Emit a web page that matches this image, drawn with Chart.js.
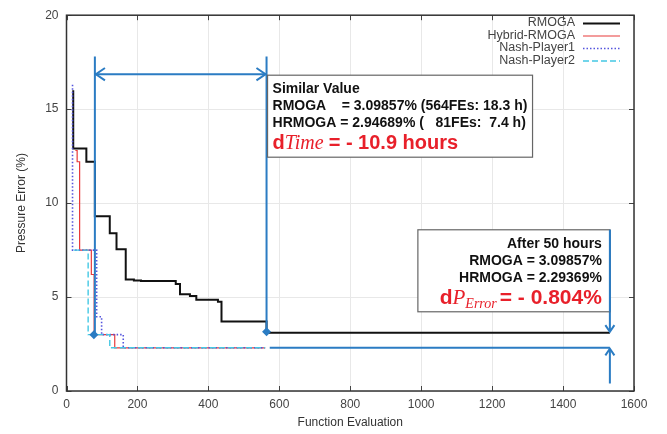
<!DOCTYPE html>
<html>
<head>
<meta charset="utf-8">
<script src="https://cdn.jsdelivr.net/npm/chart.js@4.4.1/dist/chart.umd.min.js"></script>
<style>
html,body{margin:0;padding:0;background:#fff;}
#wrap{width:667px;height:434px;position:relative;}
</style>
</head>
<body>
<div id="wrap"><canvas id="c" width="667" height="434"></canvas></div>
<script>
// ---- data ----
const seriesNames = ['RMOGA', 'Hybrid-RMOGA', 'Nash-Player1', 'Nash-Player2'];
const rmogaX = [19, 19, 56, 80, 122, 141, 167, 190, 210, 308, 320, 348, 366, 427, 437, 564, 1532];
const rmogaY = [16.0, 12.9, 12.2, 9.3, 8.4, 7.55, 5.93, 5.88, 5.85, 5.7, 5.15, 5.05, 4.85, 4.75, 3.7, 3.1, 3.1];
const hybridX = [25, 30, 37, 70, 78, 136, 560];
const hybridY = [12.8, 12.2, 7.5, 6.2, 3.0, 2.3, 2.3];
const nash1X = [17, 17, 85, 99, 160, 560];
const nash1Y = [16.3, 7.5, 3.95, 3.0, 2.3, 2.3];
const nash2X = [20, 61, 122, 560];
const nash2Y = [7.5, 3.0, 2.3, 2.3];
const xTicks = [0, 200, 400, 600, 800, 1000, 1200, 1400, 1600];
const yTicks = [0, 5, 10, 15, 20];
// annotation values
const hrmogaFE = 80, hrmogaVal = 3.0;
const rmogaFE = 564, rmogaVal = 3.15;
const arrowTop = 17.8, arrowY = 16.86;
const finalFE = 1532, finalR = 3.1, finalH = 2.3, finalLow = 0.4, finalTop = 8.58;
const box1Lines = ['Similar Value', 'RMOGA    = 3.09857% (564FEs: 18.3 h)', 'HRMOGA = 2.94689% (   81FEs:  7.4 h)'];
const box2Lines = ['After 50 hours', 'RMOGA = 3.09857%', 'HRMOGA = 2.29369%'];

const pts = (xs, ys) => xs.map((x, i) => ({x: x, y: ys[i]}));
const BLUE = '#2b7cc3';

const styles = [
  {color: '#111111', width: 2, dash: []},
  {color: '#e83a3a', width: 1.2, dash: []},
  {color: '#5555dd', width: 1.6, dash: [1.5, 2]},
  {color: '#44c8e4', width: 1.4, dash: [6, 3]}
];
const data = [pts(rmogaX, rmogaY), pts(hybridX, hybridY), pts(nash1X, nash1Y), pts(nash2X, nash2Y)];

const datasets = data.map((d, i) => ({
  label: seriesNames[i], data: d, showLine: true, stepped: 'before',
  borderColor: styles[i].color, borderWidth: styles[i].width, borderDash: styles[i].dash,
  pointRadius: 0, fill: false, order: 4 - i
}));

function arrowHead(ctx, x, y, dir, size) {
  ctx.beginPath();
  ctx.moveTo(x - size * Math.cos(dir - 0.6), y - size * Math.sin(dir - 0.6));
  ctx.lineTo(x, y);
  ctx.lineTo(x - size * Math.cos(dir + 0.6), y - size * Math.sin(dir + 0.6));
  ctx.stroke();
}
function diamond(ctx, x, y, r) {
  ctx.beginPath();
  ctx.moveTo(x, y - r); ctx.lineTo(x + r, y); ctx.lineTo(x, y + r); ctx.lineTo(x - r, y); ctx.closePath();
  ctx.fill();
}

const deco = {
  id: 'deco',
  beforeDatasetsDraw(chart) {
    const {ctx, chartArea: a, scales: {x, y}} = chart;
    ctx.save();
    ctx.strokeStyle = '#444'; ctx.lineWidth = 1;
    xTicks.forEach(v => {
      const px = Math.round(x.getPixelForValue(v)) + 0.5;
      ctx.beginPath(); ctx.moveTo(px, a.bottom); ctx.lineTo(px, a.bottom - 5);
      ctx.moveTo(px, a.top); ctx.lineTo(px, a.top + 5); ctx.stroke();
    });
    yTicks.forEach(v => {
      const py = Math.round(y.getPixelForValue(v)) + 0.5;
      ctx.beginPath(); ctx.moveTo(a.left, py); ctx.lineTo(a.left + 5, py);
      ctx.moveTo(a.right, py); ctx.lineTo(a.right - 5, py); ctx.stroke();
    });
    ctx.restore();
  },
  afterDatasetsDraw(chart) {
    const {ctx, chartArea: a, scales: {x, y}} = chart;
    const X = v => x.getPixelForValue(v), Y = v => y.getPixelForValue(v);
    ctx.save();
    ctx.strokeStyle = '#333'; ctx.lineWidth = 1.5;
    ctx.strokeRect(a.left, a.top, a.right - a.left, a.bottom - a.top);

    ctx.strokeStyle = BLUE; ctx.fillStyle = BLUE; ctx.lineWidth = 2;
    ctx.beginPath();
    ctx.moveTo(X(hrmogaFE), Y(hrmogaVal)); ctx.lineTo(X(hrmogaFE), Y(arrowTop));
    ctx.moveTo(X(rmogaFE), Y(rmogaVal)); ctx.lineTo(X(rmogaFE), Y(arrowTop));
    ctx.moveTo(X(hrmogaFE) + 1, Y(arrowY)); ctx.lineTo(X(rmogaFE) - 1, Y(arrowY));
    ctx.stroke();
    arrowHead(ctx, X(hrmogaFE) + 1, Y(arrowY), Math.PI, 11);
    arrowHead(ctx, X(rmogaFE) - 1, Y(arrowY), 0, 11);
    diamond(ctx, X(hrmogaFE) - 1, Y(hrmogaVal), 4.5);
    diamond(ctx, X(rmogaFE), Y(rmogaVal), 4.5);
    ctx.beginPath();
    ctx.moveTo(X(573), Y(finalH)); ctx.lineTo(X(finalFE), Y(finalH));
    ctx.moveTo(X(finalFE), Y(finalTop)); ctx.lineTo(X(finalFE), Y(finalR) - 1);
    ctx.moveTo(X(finalFE), Y(finalLow)); ctx.lineTo(X(finalFE), Y(finalH) + 1);
    ctx.stroke();
    arrowHead(ctx, X(finalFE), Y(finalR) - 1, Math.PI / 2, 8);
    arrowHead(ctx, X(finalFE), Y(finalH) + 1, -Math.PI / 2, 8);

    // Box 1
    const b1x = X(rmogaFE) + 1, b1y = Y(arrowY) + 1, b1w = 265, b1h = 82;
    ctx.fillStyle = '#fff'; ctx.fillRect(b1x, b1y, b1w, b1h);
    ctx.strokeStyle = '#666'; ctx.lineWidth = 1.2; ctx.strokeRect(b1x, b1y, b1w, b1h);
    ctx.fillStyle = '#111'; ctx.textBaseline = 'alphabetic'; ctx.textAlign = 'left';
    ctx.font = 'bold 14px "Liberation Sans", Arial, sans-serif';
    const tx = b1x + 5;
    ctx.fillText(box1Lines[0], tx, b1y + 18);
    ctx.fillText(box1Lines[1], tx, b1y + 35);
    ctx.fillText(box1Lines[2], tx, b1y + 52);
    let cx = tx; const by = b1y + 74;
    ctx.fillStyle = '#e8202a';
    ctx.font = 'bold 20px "Liberation Sans", Arial, sans-serif';
    ctx.fillText('d', cx, by); cx += ctx.measureText('d').width;
    ctx.font = 'italic 20px "Liberation Serif", "Times New Roman", serif';
    ctx.fillText('Time', cx, by); cx += ctx.measureText('Time ').width;
    ctx.font = 'bold 20px "Liberation Sans", Arial, sans-serif';
    ctx.fillText('= - 10.9 hours', cx, by);

    // Box 2
    const b2r = X(finalFE), b2y = Y(finalTop), b2w = 192, b2h = 82;
    const b2x = b2r - b2w;
    ctx.fillStyle = '#fff'; ctx.fillRect(b2x, b2y, b2w, b2h);
    ctx.strokeStyle = '#666'; ctx.lineWidth = 1.2; ctx.strokeRect(b2x, b2y, b2w, b2h);
    ctx.strokeStyle = BLUE; ctx.lineWidth = 2;
    ctx.beginPath(); ctx.moveTo(b2r, b2y); ctx.lineTo(b2r, b2y + b2h); ctx.stroke();
    ctx.fillStyle = '#111'; ctx.textAlign = 'right';
    ctx.font = 'bold 14px "Liberation Sans", Arial, sans-serif';
    const rx = b2r - 8;
    ctx.fillText(box2Lines[0], rx, b2y + 18);
    ctx.fillText(box2Lines[1], rx, b2y + 35);
    ctx.fillText(box2Lines[2], rx, b2y + 52);
    ctx.fillStyle = '#e8202a';
    const yb = b2y + 74;
    const fBold = 'bold 21px "Liberation Sans", Arial, sans-serif';
    const fIt = 'italic 21px "Liberation Serif", "Times New Roman", serif';
    const fSub = 'italic 14px "Liberation Serif", "Times New Roman", serif';
    ctx.textAlign = 'left';
    ctx.font = fBold; const wTail = ctx.measureText('= - 0.804%').width; const wD = ctx.measureText('d').width;
    ctx.font = fIt; const wP = ctx.measureText('P').width;
    ctx.font = fSub; const wE = ctx.measureText('Error').width;
    let sx = rx - (wD + wP + wE + 3 + wTail);
    ctx.font = fBold; ctx.fillText('d', sx, yb); sx += wD;
    ctx.font = fIt; ctx.fillText('P', sx, yb); sx += wP;
    ctx.font = fSub; ctx.fillText('Error', sx, yb + 4); sx += wE + 3;
    ctx.font = fBold; ctx.fillText('= - 0.804%', sx, yb);

    // legend
    ctx.font = '12.5px "Liberation Sans", Arial, sans-serif';
    ctx.textAlign = 'right'; ctx.textBaseline = 'middle';
    const legR = 575, lineL = 583, lineR = 620;
    const rowY = [23, 35.5, 48, 60.5];
    seriesNames.forEach((n, i) => {
      ctx.fillStyle = '#444';
      ctx.fillText(n, legR, rowY[i]);
      ctx.strokeStyle = styles[i].color; ctx.lineWidth = styles[i].width;
      ctx.setLineDash(styles[i].dash);
      ctx.beginPath(); ctx.moveTo(lineL, rowY[i] + 0.5); ctx.lineTo(lineR, rowY[i] + 0.5); ctx.stroke();
      ctx.setLineDash([]);
    });

    ctx.fillStyle = '#333'; ctx.font = '12px "Liberation Sans", Arial, sans-serif';
    ctx.textAlign = 'center'; ctx.textBaseline = 'middle';
    ctx.fillText('Function Evaluation', (a.left + a.right) / 2, 423);
    ctx.save();
    ctx.translate(22, (a.top + a.bottom) / 2); ctx.rotate(-Math.PI / 2);
    ctx.fillText('Pressure Error (%)', 0, 0);
    ctx.restore();
    ctx.restore();
  }
};

new Chart(document.getElementById('c'), {
  type: 'scatter',
  data: {datasets: datasets},
  options: {
    responsive: false, animation: false, devicePixelRatio: 1,
    layout: {padding: {top: 10, right: 33, left: 0, bottom: 0}},
    plugins: {legend: {display: false}, tooltip: {enabled: false}},
    scales: {
      x: {
        type: 'linear', min: 0, max: 1600,
        afterBuildTicks: s => { s.ticks = xTicks.map(v => ({value: v})); },
        afterFit: s => { s.height = 43; },
        ticks: {font: {size: 12, family: '"Liberation Sans", Arial, sans-serif'}, color: '#444', padding: 6, maxRotation: 0,
                callback: v => String(v)},
        grid: {color: '#e8e8e8', drawTicks: false, lineWidth: 1},
        border: {display: false}
      },
      y: {
        type: 'linear', min: 0, max: 20,
        afterBuildTicks: s => { s.ticks = yTicks.map(v => ({value: v})); },
        afterFit: s => { s.width = 66.5; },
        ticks: {font: {size: 12, family: '"Liberation Sans", Arial, sans-serif'}, color: '#444', padding: 8,
                callback: v => String(v)},
        grid: {color: '#e8e8e8', drawTicks: false, lineWidth: 1},
        border: {display: false}
      }
    }
  },
  plugins: [deco]
});
</script>
</body>
</html>
